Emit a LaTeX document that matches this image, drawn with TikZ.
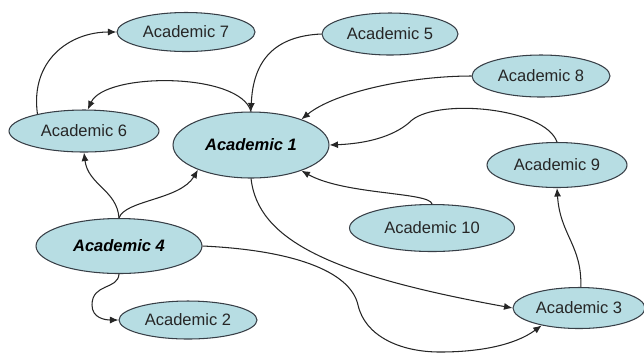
\documentclass[tikz,border=0pt]{standalone}
\usepackage{fontspec}
\setmainfont{Liberation Sans}
\usetikzlibrary{shapes.geometric,arrows.meta}
\definecolor{acfill}{RGB}{183,221,227}
\definecolor{acline}{RGB}{55,62,70}
\begin{document}
\begin{tikzpicture}[x=0.02cm,y=-0.02cm,
    acad/.style={ellipse,draw=acline,line width=0.6pt,fill=acfill,inner sep=0pt,
      minimum width=2.76cm,minimum height=0.82cm,text=black!85,
      font=\fontsize{9.4}{11}\selectfont},
    lead/.style={acad,text=black,font=\fontsize{9.4}{11}\selectfont\bfseries\itshape},
    edge/.style={draw=black!85,line width=0.6pt,-{Latex[length=1.7mm,width=1.4mm]}}]
  \useasboundingbox (0,0) rectangle (644,353);
  \node[acad,minimum height=0.78cm] at (186,32) (a7) {Academic 7};
  \node[acad,minimum width=2.72cm,minimum height=0.84cm] at (390,34) (a5) {Academic 5};
  \node[acad,minimum height=0.84cm] at (541,76) (a8) {Academic 8};
  \node[acad,minimum width=3cm,minimum height=0.84cm] at (84,131) (a6) {Academic 6};
  \node[lead,minimum width=3.12cm,minimum height=1.32cm] at (251,145) (a1) {Academic 1};
  \node[acad,minimum width=2.8cm,minimum height=0.9cm] at (557,165) (a9) {Academic 9};
  \node[acad,minimum width=3.3cm,minimum height=0.94cm] at (432,228) (a10) {Academic 10};
  \node[lead,minimum width=3.32cm,minimum height=1.1cm] at (119,246) (a4) {Academic 4};
  \node[acad,minimum height=0.76cm] at (188,320) (a2) {Academic 2};
  \node[acad,minimum width=2.64cm] at (579,308) (a3) {Academic 3};
  \foreach \s/\p/\q/\t in {a6.160/{30,60}/{70,32}/a7.west,
      a1.north/{240,72}/{105,72}/a6.80,
      a5.west/{275,36}/{253,60}/a1.north,
      a8.west/{410,76}/{335,92}/a1.27,
      a10.north/{430,192}/{345,195}/a1.-27,
      a4.north/{117,190}/{88,185}/a6.south,
      a4.north/{125,200}/{180,200}/a1.-155,
      a1.south/{258,240}/{330,275}/a3.west,
      a3.85/{582,245}/{560,235}/a9.south}
    \draw[edge] (\s) .. controls (\p) and (\q) .. (\t);
  \draw[edge] (a9.north) .. controls (545,108) and (440,98) .. (412,120)
    .. controls (402,130) and (380,143) .. (a1.east);
  \draw[edge] (a4.south) .. controls (118,290) and (92,283) .. (92,305)
    .. controls (92,318) and (105,320) .. (a2.west);
  \draw[edge] (a4.east) .. controls (290,250) and (350,270) .. (358,305)
    .. controls (365,336) and (400,352) .. (440,352)
    .. controls (480,352) and (515,345) .. (a3.-155);
\end{tikzpicture}
\end{document}
